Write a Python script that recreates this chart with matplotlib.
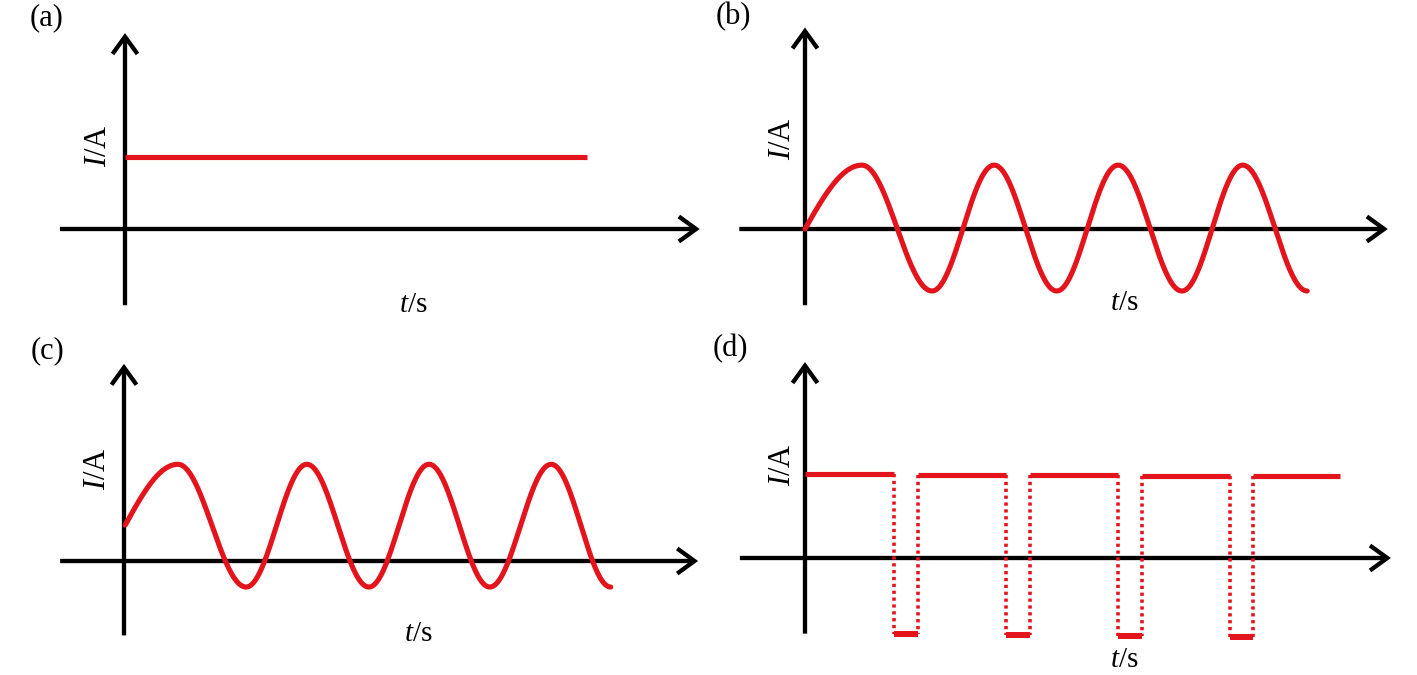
import numpy as np
import matplotlib
matplotlib.use("Agg")
import matplotlib.pyplot as plt
from matplotlib.patches import FancyArrowPatch

plt.rcParams['font.family'] = ['Liberation Serif', 'DejaVu Serif']
plt.rcParams['mathtext.fontset'] = 'custom'
plt.rcParams['mathtext.rm'] = 'Liberation Serif'
plt.rcParams['mathtext.it'] = 'Liberation Serif:italic'

# ---------------- data (time / current, arbitrary units) ----------------
panel_labels = ['(a)', '(b)', '(c)', '(d)']
y_label = r'$I$/A'
x_label = r'$t$/s'

# (a) constant current
a_t = [0.0, 7.45]
a_I = [1.16, 1.16]

# (b) alternating current: knots (start, then alternating peaks/troughs)
b_t = [0.0, 0.92, 2.05, 3.05, 4.06, 5.05, 6.08, 7.06, 8.10]
b_I = [0.0, 1.03, -1.00, 1.03, -1.00, 1.03, -1.00, 1.03, -1.00]

# (c) offset alternating current
c_t = [0.02, 0.87, 1.97, 2.95, 3.95, 4.92, 5.90, 6.89, 7.85]
c_I = [0.58, 1.56, -0.42, 1.56, -0.42, 1.56, -0.42, 1.56, -0.42]

# (d) pulsed current
d_high_start = [0.0, 1.82, 3.63, 5.44, 7.23]
d_high_end = [1.44, 3.24, 5.05, 6.85, 8.63]
d_high = [1.35, 1.34, 1.34, 1.32, 1.32]
d_low = [-1.23, -1.24, -1.26, -1.27]

RED = '#e3141c'
U = 62.0          # pixels per data unit
W, H = 1417, 675

fig = plt.figure(figsize=(W / 100, H / 100), dpi=100)


def panel(ox, oy):
    """Full-figure transparent axes with origin at pixel (ox, oy from top)."""
    ax = fig.add_axes([0, 0, 1, 1])
    ax.set_xlim(-ox / U, (W - ox) / U)
    ax.set_ylim((oy - H) / U, oy / U)
    ax.axis('off')
    ax.patch.set_alpha(0)
    return ax


def axes_arrows(ax, xl, xr, yb, yt):
    for p0, p1 in [((xl, 0), (xr, 0)), ((0, yb), (0, yt))]:
        ax.add_patch(FancyArrowPatch(p0, p1, arrowstyle='->,head_length=0.62,head_width=0.45',
                                     mutation_scale=20, lw=3.1, color='black',
                                     shrinkA=0, shrinkB=0, joinstyle='miter', capstyle='butt',
                                     zorder=2))


def smooth(tk, Ik, n=80):
    ts, Is = [], []
    for i in range(len(tk) - 1):
        s = np.linspace(0, 1, n)
        if i == 0:
            shape = np.sin(np.pi / 2 * s)
        else:
            shape = (1 - np.cos(np.pi * s)) / 2
        ts.append(tk[i] + (tk[i + 1] - tk[i]) * s)
        Is.append(Ik[i] + (Ik[i + 1] - Ik[i]) * shape)
    return np.concatenate(ts), np.concatenate(Is)


def labels(ax, lab, lab_xy, ylab_xy, xlab_xy):
    ax.text(*lab_xy, lab, fontsize=22, ha='center', va='center')
    ax.text(*ylab_xy, y_label, fontsize=22, ha='center', va='center', rotation=90)
    ax.text(*xlab_xy, x_label, fontsize=21, ha='center', va='center')


# (a)
ax = panel(125, 229)
axes_arrows(ax, -1.05, 9.27, -1.23, 3.16)
ax.plot(a_t, a_I, color=RED, lw=3.7, solid_capstyle='butt', zorder=3)
labels(ax, panel_labels[0], (-1.26, 3.40), (-0.43, 1.35), (4.65, -1.22))

# (b)
ax = panel(805, 229)
axes_arrows(ax, -1.06, 9.40, -1.23, 3.25)
t, I = smooth(b_t, b_I)
ax.plot(t, I, color=RED, lw=3.7, solid_capstyle='round', zorder=3)
labels(ax, panel_labels[1], (-1.16, 3.42), (-0.37, 1.46), (5.15, -1.20))

# (c)
ax = panel(124, 561)
axes_arrows(ax, -1.03, 9.26, -1.20, 3.18)
t, I = smooth(c_t, c_I)
ax.plot(t, I, color=RED, lw=3.7, solid_capstyle='round', zorder=3)
labels(ax, panel_labels[2], (-1.24, 3.39), (-0.42, 1.48), (4.75, -1.17))

# (d)
ax = panel(805, 558)
axes_arrows(ax, -1.05, 9.45, -1.22, 3.16)
for i in range(len(d_high)):
    ax.plot([d_high_start[i], d_high_end[i]], [d_high[i], d_high[i]],
            color=RED, lw=3.7, solid_capstyle='butt', zorder=3)
for i in range(len(d_low)):
    t0, t1 = d_high_end[i], d_high_start[i + 1]
    ax.plot([t0, t1], [d_low[i], d_low[i]], color=RED, lw=4.3,
            solid_capstyle='butt', zorder=3)
    ax.plot([t0, t0], [d_high[i], d_low[i]], color=RED, lw=2.6,
            linestyle=(0, (0.9, 1.0)), zorder=3)
    ax.plot([t1, t1], [d_high[i + 1], d_low[i]], color=RED, lw=2.6,
            linestyle=(0, (0.9, 1.0)), zorder=3)
labels(ax, panel_labels[3], (-1.2, 3.37), (-0.37, 1.50), (5.15, -1.65))

fig.savefig('out.png', dpi=100)
